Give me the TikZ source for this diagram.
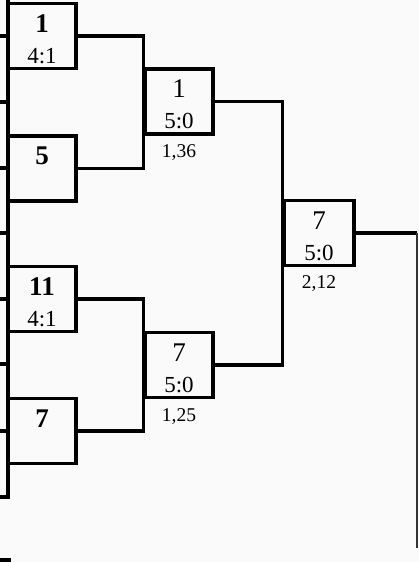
\documentclass[tikz,border=0pt]{standalone}
\usepackage{fontspec}
\setmainfont{Liberation Serif}

\begin{document}
\begin{tikzpicture}[x=1pt, y=-1pt,
    box/.style={draw, line width=3.5pt, minimum width=68pt, minimum height=65pt, inner sep=0pt},
    link/.style={line width=3.5pt},
    thinlink/.style={line width=2pt, black!80},
    seed/.style={anchor=base, font=\fontsize{27}{30}\selectfont\bfseries},
    winner/.style={anchor=base, font=\fontsize{27}{30}\selectfont},
    score/.style={anchor=base, font=\fontsize{23}{26}\selectfont},
    coef/.style={anchor=base, font=\fontsize{19.5}{22}\selectfont}]
    \fill[black!2] (0,0) rectangle (419,562);
    \useasboundingbox (0,0) rectangle (419,562);

    % Draw nodes
    \node[box] (a1) at (42,36) {};
    \node[box] (b1) at (42,168.5) {};
    \node[box] (c1) at (42,299) {};
    \node[box] (d1) at (42,431) {};
    \node[box] (e2) at (179,101.5) {};
    \node[box] (f2) at (179,365) {};
    \node[box, minimum width=70pt] (g3) at (319,233) {};

    % Numbers and scores
    \node[seed] (a1n) at ([yshift=4pt]a1.center) {1};
    \node[score] (a1s) at ([yshift=-27pt]a1.center) {4:1};
    \node[seed] (b1n) at ([yshift=4pt]b1.center) {5};
    \node[seed] (c1n) at ([yshift=4pt]c1.center) {11};
    \node[score] (c1s) at ([yshift=-27pt]c1.center) {4:1};
    \node[seed] (d1n) at ([yshift=4pt]d1.center) {7};
    \node[winner] (e2n) at ([yshift=4pt]e2.center) {1};
    \node[score] (e2s) at ([yshift=-27pt]e2.center) {5:0};
    \node[coef] (e2c) at ([yshift=-56pt]e2.center) {1,36};
    \node[winner] (f2n) at ([yshift=4pt]f2.center) {7};
    \node[score] (f2s) at ([yshift=-27pt]f2.center) {5:0};
    \node[coef] (f2c) at ([yshift=-56pt]f2.center) {1,25};
    \node[winner] (g3n) at ([yshift=4pt]g3.center) {7};
    \node[score] (g3s) at ([yshift=-27pt]g3.center) {5:0};
    \node[coef] (g3c) at ([yshift=-55pt]g3.center) {2,12};

    % Draw connections
    \coordinate (top) at (8,0);
    \coordinate (bot) at (8,497);
    \coordinate (out) at (417,548);
    \coordinate (next) at (11,560);
    \draw[link] (top) -- (bot) -- (bot -| 0,0);
    \foreach \y [count=\i] in {36,102,168,233,299,364,431} {
        \coordinate (l\i) at (0,\y);
        \draw[link] (l\i) -- (l\i -| top);
    }
    \draw[link] (next -| 0,0) -- (next);
    \draw[link] (a1.east) -| (e2.west |- b1.east) -- (b1.east);
    \draw[link] (c1.east) -| (f2.west |- d1.east) -- (d1.east);
    \draw[link] (e2.east) -| (g3.west |- f2.east) -- (f2.east);
    \draw[link] (g3.east) -- (g3.east -| out);
    \draw[thinlink] (g3.east -| out) -- (out);
\end{tikzpicture}
\end{document}
